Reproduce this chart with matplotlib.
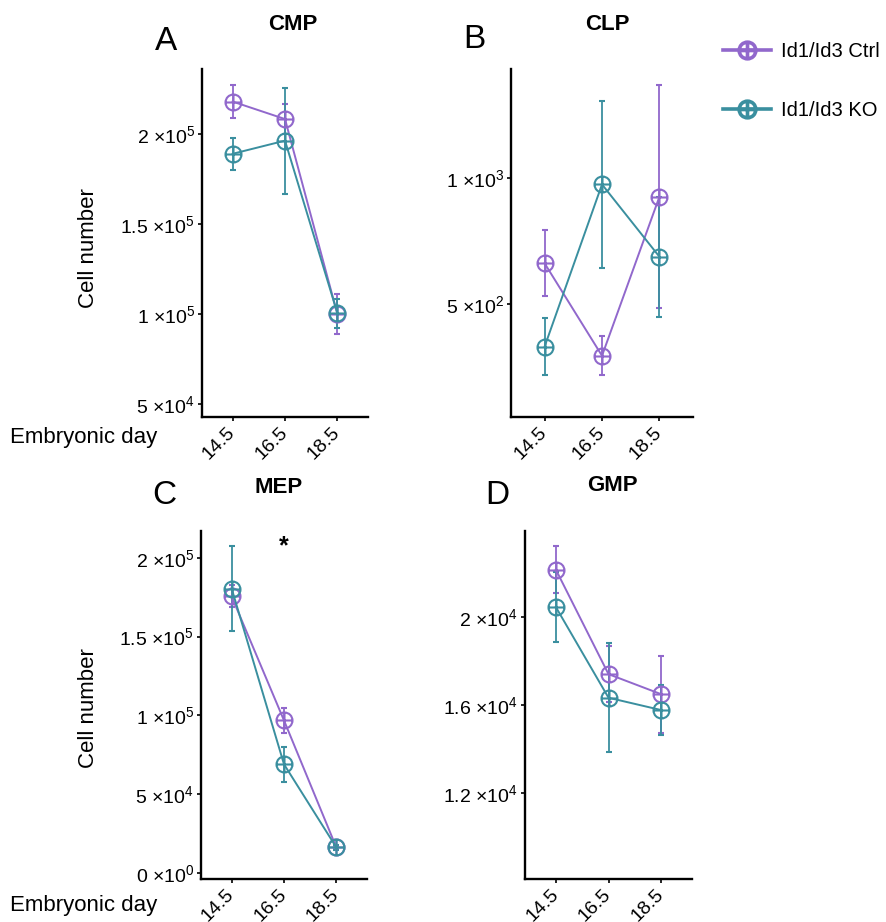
import numpy as np
import matplotlib
matplotlib.use("Agg")
import matplotlib.pyplot as plt
from matplotlib.path import Path
from matplotlib.lines import Line2D
from matplotlib.transforms import blended_transform_factory

plt.rcParams["font.family"] = ["Liberation Sans", "DejaVu Sans"]
plt.rcParams["mathtext.fontset"] = "custom"
plt.rcParams["mathtext.rm"] = "Liberation Sans"
plt.rcParams["mathtext.it"] = "Liberation Sans:italic"
plt.rcParams["mathtext.bf"] = "Liberation Sans:bold"

# data
days = [14.5, 16.5, 18.5]
day_labels = ["14.5", "16.5", "18.5"]
groups = ["Id1/Id3 Ctrl", "Id1/Id3 KO"]

cmp_ctrl = [218000, 208300, 100000]
cmp_ctrl_err = [9000, 8300, 11000]
cmp_ko = [189000, 196300, 100500]
cmp_ko_err = [9000, 29500, 8000]

clp_ctrl = [663, 296, 927]
clp_ctrl_err = [131, 77, 442]
clp_ko = [332, 976, 689]
clp_ko_err = [114, 330, 238]

mep_ctrl = [175500, 96800, 16200]
mep_ctrl_err = [7000, 7700, 1200]
mep_ko = [180500, 69000, 16200]
mep_ko_err = [27000, 11000, 1500]

gmp_ctrl = [22150, 17400, 16490]
gmp_ctrl_err = [1070, 1280, 1740]
gmp_ko = [20450, 16330, 15770]
gmp_ko_err = [1580, 2470, 1120]

cmp_ticks = [5e4, 1e5, 1.5e5, 2e5]
clp_ticks = [500, 1000]
mep_ticks = [0, 5e4, 1e5, 1.5e5, 2e5]
gmp_ticks = [1.2e4, 1.6e4, 2e4]

purple = "#9168cc"
teal = "#3a8f9f"

# circle with a plus inside (ggplot shape 10)
plus = Path([(-1, 0), (1, 0), (0, -1), (0, 1)],
            [Path.MOVETO, Path.LINETO, Path.MOVETO, Path.LINETO])
cplus = Path.make_compound_path(Path.unit_circle(), plus)


def sci(v):
    if v == 0:
        return r"0 $\times$10$^{0}$"
    e = int(np.floor(np.log10(v)))
    m = v / 10 ** e
    return "%g $\\times$10$^{%d}$" % (m, e)


W, H = 886, 922


def rect(l, r, t, b):
    return [l / W, 1 - b / H, (r - l) / W, (b - t) / H]


fig = plt.figure(figsize=(8.86, 9.22), dpi=100)

panels = [
    (rect(202, 368, 69, 417), cmp_ctrl, cmp_ctrl_err, cmp_ko, cmp_ko_err, cmp_ticks, (42800, 236100)),
    (rect(511, 693, 69, 417), clp_ctrl, clp_ctrl_err, clp_ko, clp_ko_err, clp_ticks, (53, 1434)),
    (rect(201, 367, 531, 879), mep_ctrl, mep_ctrl_err, mep_ko, mep_ko_err, mep_ticks, (-3800, 217000)),
    (rect(525, 692, 531, 879), gmp_ctrl, gmp_ctrl_err, gmp_ko, gmp_ko_err, gmp_ticks, (8100, 23900)),
]

axes = []
for pos, c, ce, k, ke, ticks, ylim in panels:
    ax = fig.add_axes(pos)
    for vals, err, col in [(c, ce, purple), (k, ke, teal)]:
        ax.errorbar(days, vals, yerr=err, color=col, lw=1.4, elinewidth=1.3,
                    capsize=2, capthick=1.3, marker=cplus, ms=11.5, mfc="none",
                    mec=col, mew=1.5)
    ax.set_xlim(13.33, 19.67)
    ax.set_ylim(*ylim)
    ax.set_yticks(ticks)
    ax.set_yticklabels([sci(t) for t in ticks])
    ax.set_xticks(days)
    ax.set_xticklabels(day_labels, rotation=45, ha="right", va="center",
                       rotation_mode="anchor")
    ax.spines[["top", "right"]].set_visible(False)
    for s in ["left", "bottom"]:
        ax.spines[s].set_linewidth(1.7)
    ax.tick_params(length=3, width=1.2, labelsize=14, pad=2, colors="black")
    ax.tick_params(axis="x", pad=6)
    axes.append(ax)

# significance star on MEP
tr = blended_transform_factory(axes[2].transData, axes[2].transAxes)
axes[2].text(16.5, 0.955, "*", transform=tr, ha="center", va="center",
             fontsize=18, fontweight="bold")

letters = [("A", 166, 42), ("B", 474, 40), ("C", 164, 495), ("D", 497, 495)]
for s, x, y in letters:
    fig.text(x / W, 1 - y / H, s, ha="center", va="center", fontsize=24)

titles = [("CMP", 293, 25), ("CLP", 607, 24), ("MEP", 279, 487), ("GMP", 612, 485)]
for s, x, y in titles:
    fig.text(x / W, 1 - y / H, s, ha="center", va="center", fontsize=16,
             fontweight="bold")

for y in [437, 905]:
    fig.text(10 / W, 1 - y / H, "Embryonic day", ha="left", va="center", fontsize=16)
for y in [248, 708]:
    fig.text(89 / W, 1 - y / H, "Cell number", ha="center", va="center",
             fontsize=16, rotation=90)

handles = [Line2D([], [], color=col, lw=2.6, marker=cplus, ms=12, mfc="none",
                  mec=col, mew=2.6) for col in [purple, teal]]
fig.legend(handles, groups, loc="center left", bbox_to_anchor=(705 / W, 1 - 81 / H),
           frameon=False, fontsize=14.5, handlelength=2.4, handletextpad=0.45,
           labelspacing=2.0)

fig.savefig("out.png", dpi=100)
